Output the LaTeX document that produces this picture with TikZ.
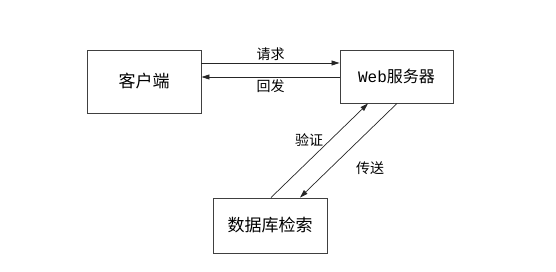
\documentclass[tikz,border=0pt]{standalone}
\usepackage{fontspec}
\setmainfont{Noto Sans CJK SC}
\newfontfamily\webfont{Liberation Mono}
\usetikzlibrary{arrows.meta,positioning}

\begin{document}
\begin{tikzpicture}[x=1pt,y=-1pt,
	box/.style={draw=black!75,line width=0.9pt,inner sep=0pt,
		minimum width=114pt,minimum height=63pt,font=\fontsize{17}{20}\selectfont},
	arr/.style={-{Triangle[length=8pt,width=5pt]},line width=0.7pt,draw=black!85},
	lbl/.style={font=\fontsize{14}{16}\selectfont,inner sep=2pt}]
	\useasboundingbox (0,0) rectangle (556,272);
	\node[box] (client) at (144,81.5) {客户端};
	\node[box,minimum width=113pt,minimum height=53pt,font=\fontsize{16}{19}\selectfont] (web) at (396.5,76.5) {{\webfont Web}服务器};
	\node[box,minimum height=55pt] (db) at (270,225.5) {数据库检索};
	\draw[arr] ([yshift=18.5pt]client.east) -- node[lbl,above] (req) {请求} ([yshift=13.5pt]web.west);
	\draw[arr] ([yshift=-0.5pt]web.west) -- node[lbl,below] (resp) {回发} ([yshift=4.5pt]client.east);
	\draw[arr] ([xshift=1pt]db.north) -- ([xshift=-28.5pt]web.south);
	\draw[arr] ([xshift=0.5pt]web.south) -- ([xshift=30pt]db.north);
	\node[lbl] (check) at (309,140) {验证};
	\node[lbl] (send) at (370,168) {传送};
\end{tikzpicture}
\end{document}
